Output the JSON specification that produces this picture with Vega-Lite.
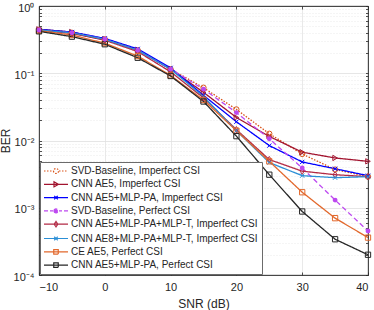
{
  "$schema": "https://vega.github.io/schema/vega-lite/v6.json",
  "width": 329,
  "height": 269,
  "autosize": {"type": "none"},
  "padding": {"left": 39, "top": 6, "right": 6, "bottom": 35},
  "config": {
    "font": "Liberation Sans",
    "view": {"stroke": "#262626", "strokeWidth": 0.8},
    "axis": {
      "labelFont": "Liberation Sans",
      "titleFont": "Liberation Sans",
      "labelFontSize": 11,
      "titleFontSize": 12,
      "titleFontWeight": "normal",
      "labelColor": "#262626",
      "titleColor": "#262626",
      "domainColor": "#262626",
      "tickColor": "#262626",
      "domainWidth": 0.8,
      "tickWidth": 0.8
    },
    "point": {"filled": false, "size": 28, "strokeWidth": 1, "opacity": 1, "clip": true}
  },
  "data": {
    "values": [
      {"series": "SVD-Baseline, Imperfect CSI", "snr": -10, "ber": 0.44},
      {"series": "SVD-Baseline, Imperfect CSI", "snr": -5, "ber": 0.40},
      {"series": "SVD-Baseline, Imperfect CSI", "snr": 0, "ber": 0.32},
      {"series": "SVD-Baseline, Imperfect CSI", "snr": 5, "ber": 0.22},
      {"series": "SVD-Baseline, Imperfect CSI", "snr": 10, "ber": 0.115},
      {"series": "SVD-Baseline, Imperfect CSI", "snr": 15, "ber": 0.061},
      {"series": "SVD-Baseline, Imperfect CSI", "snr": 20, "ber": 0.029},
      {"series": "SVD-Baseline, Imperfect CSI", "snr": 25, "ber": 0.0126},
      {"series": "SVD-Baseline, Imperfect CSI", "snr": 30, "ber": 0.0063},
      {"series": "SVD-Baseline, Imperfect CSI", "snr": 35, "ber": 0.0037},
      {"series": "SVD-Baseline, Imperfect CSI", "snr": 40, "ber": 0.0029},
      {"series": "CNN AE5, Imperfect CSI", "snr": -10, "ber": 0.45},
      {"series": "CNN AE5, Imperfect CSI", "snr": -5, "ber": 0.41},
      {"series": "CNN AE5, Imperfect CSI", "snr": 0, "ber": 0.32},
      {"series": "CNN AE5, Imperfect CSI", "snr": 5, "ber": 0.22},
      {"series": "CNN AE5, Imperfect CSI", "snr": 10, "ber": 0.115},
      {"series": "CNN AE5, Imperfect CSI", "snr": 15, "ber": 0.052},
      {"series": "CNN AE5, Imperfect CSI", "snr": 20, "ber": 0.022},
      {"series": "CNN AE5, Imperfect CSI", "snr": 25, "ber": 0.0115},
      {"series": "CNN AE5, Imperfect CSI", "snr": 30, "ber": 0.0067},
      {"series": "CNN AE5, Imperfect CSI", "snr": 35, "ber": 0.0055},
      {"series": "CNN AE5, Imperfect CSI", "snr": 40, "ber": 0.0049},
      {"series": "CNN AE5+MLP-PA, Imperfect CSI", "snr": -10, "ber": 0.45},
      {"series": "CNN AE5+MLP-PA, Imperfect CSI", "snr": -5, "ber": 0.41},
      {"series": "CNN AE5+MLP-PA, Imperfect CSI", "snr": 0, "ber": 0.33},
      {"series": "CNN AE5+MLP-PA, Imperfect CSI", "snr": 5, "ber": 0.23},
      {"series": "CNN AE5+MLP-PA, Imperfect CSI", "snr": 10, "ber": 0.12},
      {"series": "CNN AE5+MLP-PA, Imperfect CSI", "snr": 15, "ber": 0.047},
      {"series": "CNN AE5+MLP-PA, Imperfect CSI", "snr": 20, "ber": 0.019},
      {"series": "CNN AE5+MLP-PA, Imperfect CSI", "snr": 25, "ber": 0.0084},
      {"series": "CNN AE5+MLP-PA, Imperfect CSI", "snr": 30, "ber": 0.0048},
      {"series": "CNN AE5+MLP-PA, Imperfect CSI", "snr": 35, "ber": 0.0038},
      {"series": "CNN AE5+MLP-PA, Imperfect CSI", "snr": 40, "ber": 0.0030},
      {"series": "SVD-Baseline, Perfect CSI", "snr": -10, "ber": 0.44},
      {"series": "SVD-Baseline, Perfect CSI", "snr": -5, "ber": 0.40},
      {"series": "SVD-Baseline, Perfect CSI", "snr": 0, "ber": 0.32},
      {"series": "SVD-Baseline, Perfect CSI", "snr": 5, "ber": 0.22},
      {"series": "SVD-Baseline, Perfect CSI", "snr": 10, "ber": 0.115},
      {"series": "SVD-Baseline, Perfect CSI", "snr": 15, "ber": 0.058},
      {"series": "SVD-Baseline, Perfect CSI", "snr": 20, "ber": 0.026},
      {"series": "SVD-Baseline, Perfect CSI", "snr": 25, "ber": 0.0106},
      {"series": "SVD-Baseline, Perfect CSI", "snr": 30, "ber": 0.0039},
      {"series": "SVD-Baseline, Perfect CSI", "snr": 35, "ber": 0.0013},
      {"series": "SVD-Baseline, Perfect CSI", "snr": 40, "ber": 0.00045},
      {"series": "CNN AE5+MLP-PA+MLP-T, Imperfect CSI", "snr": -10, "ber": 0.44},
      {"series": "CNN AE5+MLP-PA+MLP-T, Imperfect CSI", "snr": -5, "ber": 0.39},
      {"series": "CNN AE5+MLP-PA+MLP-T, Imperfect CSI", "snr": 0, "ber": 0.31},
      {"series": "CNN AE5+MLP-PA+MLP-T, Imperfect CSI", "snr": 5, "ber": 0.21},
      {"series": "CNN AE5+MLP-PA+MLP-T, Imperfect CSI", "snr": 10, "ber": 0.105},
      {"series": "CNN AE5+MLP-PA+MLP-T, Imperfect CSI", "snr": 15, "ber": 0.043},
      {"series": "CNN AE5+MLP-PA+MLP-T, Imperfect CSI", "snr": 20, "ber": 0.0145},
      {"series": "CNN AE5+MLP-PA+MLP-T, Imperfect CSI", "snr": 25, "ber": 0.0052},
      {"series": "CNN AE5+MLP-PA+MLP-T, Imperfect CSI", "snr": 30, "ber": 0.0035},
      {"series": "CNN AE5+MLP-PA+MLP-T, Imperfect CSI", "snr": 35, "ber": 0.0031},
      {"series": "CNN AE5+MLP-PA+MLP-T, Imperfect CSI", "snr": 40, "ber": 0.0029},
      {"series": "CNN AE8+MLP-PA+MLP-T, Imperfect CSI", "snr": -10, "ber": 0.44},
      {"series": "CNN AE8+MLP-PA+MLP-T, Imperfect CSI", "snr": -5, "ber": 0.40},
      {"series": "CNN AE8+MLP-PA+MLP-T, Imperfect CSI", "snr": 0, "ber": 0.32},
      {"series": "CNN AE8+MLP-PA+MLP-T, Imperfect CSI", "snr": 5, "ber": 0.22},
      {"series": "CNN AE8+MLP-PA+MLP-T, Imperfect CSI", "snr": 10, "ber": 0.115},
      {"series": "CNN AE8+MLP-PA+MLP-T, Imperfect CSI", "snr": 15, "ber": 0.045},
      {"series": "CNN AE8+MLP-PA+MLP-T, Imperfect CSI", "snr": 20, "ber": 0.014},
      {"series": "CNN AE8+MLP-PA+MLP-T, Imperfect CSI", "snr": 25, "ber": 0.0047},
      {"series": "CNN AE8+MLP-PA+MLP-T, Imperfect CSI", "snr": 30, "ber": 0.0030},
      {"series": "CNN AE8+MLP-PA+MLP-T, Imperfect CSI", "snr": 35, "ber": 0.0028},
      {"series": "CNN AE8+MLP-PA+MLP-T, Imperfect CSI", "snr": 40, "ber": 0.0029},
      {"series": "CE AE5, Perfect CSI", "snr": -10, "ber": 0.43},
      {"series": "CE AE5, Perfect CSI", "snr": -5, "ber": 0.37},
      {"series": "CE AE5, Perfect CSI", "snr": 0, "ber": 0.28},
      {"series": "CE AE5, Perfect CSI", "snr": 5, "ber": 0.18},
      {"series": "CE AE5, Perfect CSI", "snr": 10, "ber": 0.093},
      {"series": "CE AE5, Perfect CSI", "snr": 15, "ber": 0.040},
      {"series": "CE AE5, Perfect CSI", "snr": 20, "ber": 0.014},
      {"series": "CE AE5, Perfect CSI", "snr": 25, "ber": 0.0049},
      {"series": "CE AE5, Perfect CSI", "snr": 30, "ber": 0.0017},
      {"series": "CE AE5, Perfect CSI", "snr": 35, "ber": 0.00070},
      {"series": "CE AE5, Perfect CSI", "snr": 40, "ber": 0.00036},
      {"series": "CNN AE5+MLP-PA, Perfect CSI", "snr": -10, "ber": 0.42},
      {"series": "CNN AE5+MLP-PA, Perfect CSI", "snr": -5, "ber": 0.35},
      {"series": "CNN AE5+MLP-PA, Perfect CSI", "snr": 0, "ber": 0.27},
      {"series": "CNN AE5+MLP-PA, Perfect CSI", "snr": 5, "ber": 0.17},
      {"series": "CNN AE5+MLP-PA, Perfect CSI", "snr": 10, "ber": 0.091},
      {"series": "CNN AE5+MLP-PA, Perfect CSI", "snr": 15, "ber": 0.038},
      {"series": "CNN AE5+MLP-PA, Perfect CSI", "snr": 20, "ber": 0.0116},
      {"series": "CNN AE5+MLP-PA, Perfect CSI", "snr": 25, "ber": 0.0031},
      {"series": "CNN AE5+MLP-PA, Perfect CSI", "snr": 30, "ber": 0.00088},
      {"series": "CNN AE5+MLP-PA, Perfect CSI", "snr": 35, "ber": 0.00034},
      {"series": "CNN AE5+MLP-PA, Perfect CSI", "snr": 40, "ber": 0.0002}
    ]
  },
  "resolve": {"axis": {"x": "independent", "y": "independent"}},
  "layer": [
    {
      "mark": {"type": "line", "strokeWidth": 1.3, "clip": true},
      "encoding": {
        "x": {
          "field": "snr", "type": "quantitative",
          "scale": {"domain": [-10, 40], "nice": false, "zero": false},
          "axis": {
            "orient": "bottom", "title": "SNR (dB)", "values": [-10, 0, 10, 20, 30, 40],
            "grid": true, "gridColor": "#e3e3e3", "gridWidth": 0.8,
            "tickSize": -3, "labelPadding": 9, "titlePadding": 6, "domain": true
          }
        },
        "y": {
          "field": "ber", "type": "quantitative",
          "scale": {"type": "log", "domain": [0.0001, 1], "nice": false},
          "axis": {
            "orient": "left", "title": "BER", "titlePadding": 1,
            "values": [0.0001, 0.0002, 0.0003, 0.0004, 0.0005, 0.0006, 0.0007, 0.0008, 0.0009, 0.001, 0.002, 0.003, 0.004, 0.005, 0.006, 0.007, 0.008, 0.009, 0.01, 0.02, 0.03, 0.04, 0.05, 0.06, 0.07, 0.08, 0.09, 0.1, 0.2, 0.3, 0.4, 0.5, 0.6, 0.7, 0.8, 0.9, 1],
            "labelExpr": "datum.value == 1 ? '10⁰' : datum.value == 0.1 ? '10⁻¹' : datum.value == 0.01 ? '10⁻²' : datum.value == 0.001 ? '10⁻³' : datum.value == 0.0001 ? '10⁻⁴' : ''",
            "grid": true,
            "gridColor": {"condition": {"test": "indexof([1,0.1,0.01,0.001,0.0001], datum.value) >= 0", "value": "#e0e0e0"}, "value": "#e6e6e6"},
            "gridDash": {"condition": {"test": "indexof([1,0.1,0.01,0.001,0.0001], datum.value) >= 0", "value": []}, "value": [1, 2]},
            "gridWidth": 0.8,
            "tickSize": -2.5, "labelPadding": 7.5, "labelOffset": 2, "labelFlush": false, "labelOverlap": false
          }
        },
        "color": {
          "field": "series", "type": "nominal",
          "scale": {
            "domain": ["SVD-Baseline, Imperfect CSI", "CNN AE5, Imperfect CSI", "CNN AE5+MLP-PA, Imperfect CSI", "SVD-Baseline, Perfect CSI", "CNN AE5+MLP-PA+MLP-T, Imperfect CSI", "CNN AE8+MLP-PA+MLP-T, Imperfect CSI", "CE AE5, Perfect CSI", "CNN AE5+MLP-PA, Perfect CSI"],
            "range": ["#D95319", "#A2142F", "#0000FF", "#BD48F0", "#B22A45", "#2B8FD6", "#E2682C", "#262626"]
          },
          "legend": {
            "title": null,
            "orient": "bottom-left",
            "offset": 1,
            "fillColor": "white",
            "strokeColor": "#6b6b6b",
            "padding": 3,
            "rowPadding": 2.3,
            "symbolSize": 100,
            "symbolStrokeWidth": 1.2,
            "labelOffset": 16,
            "labelFontSize": 10,
            "labelFont": "Liberation Sans",
            "labelColor": "#262626",
            "labelLimit": 300,
            "encode": {
              "symbols": {
                "update": {
                  "shape": {"signal": "['M-1,0h0.3M-0.4,0h0.3M0.2,0h0.3M2.0,0h0.3M2.6,0h0.3M3.2,0h0.3M0.9,0A0.5,0.5 0 1,0 1.9,0A0.5,0.5 0 1,0 0.9,0', 'M-1,0H3.8M1.0,-0.5L1.9,0L1.0,0.5Z', 'M-1,0H3.8M1.05,-0.35L1.75,0.35M1.05,0.35L1.75,-0.35', 'M-1,0H-0.2M0.2,0H0.8M2.0,0H2.6M3.0,0H3.8M1.0,0A0.4,0.4 0 1,0 1.8,0A0.4,0.4 0 1,0 1.0,0', 'M-1,0H3.8M1.4,-0.55L1.75,0L1.4,0.55L1.05,0Z', 'M-1,0H3.8M1.05,-0.35L1.75,0.35M1.05,0.35L1.75,-0.35', 'M-1,0H3.8M0.95,-0.45H1.85V0.45H0.95Z', 'M-1,0H3.8M0.95,-0.45H1.85V0.45H0.95Z'][indexof(['SVD-Baseline, Imperfect CSI', 'CNN AE5, Imperfect CSI', 'CNN AE5+MLP-PA, Imperfect CSI', 'SVD-Baseline, Perfect CSI', 'CNN AE5+MLP-PA+MLP-T, Imperfect CSI', 'CNN AE8+MLP-PA+MLP-T, Imperfect CSI', 'CE AE5, Perfect CSI', 'CNN AE5+MLP-PA, Perfect CSI'], datum.value)]"},
                  "fill": {"signal": "datum.value == 'SVD-Baseline, Perfect CSI' ? '#BD48F0' : 'transparent'"},
                  "stroke": {"scale": "color", "field": "value"},
                  "strokeDash": {"value": []},
                  "strokeWidth": {"value": 1.2},
                  "opacity": {"value": 1}
                }
              }
            }
          }
        },
        "strokeDash": {
          "field": "series", "type": "nominal",
          "scale": {
            "domain": ["SVD-Baseline, Imperfect CSI", "CNN AE5, Imperfect CSI", "CNN AE5+MLP-PA, Imperfect CSI", "SVD-Baseline, Perfect CSI", "CNN AE5+MLP-PA+MLP-T, Imperfect CSI", "CNN AE8+MLP-PA+MLP-T, Imperfect CSI", "CE AE5, Perfect CSI", "CNN AE5+MLP-PA, Perfect CSI"],
            "range": [[1.5, 1.5], [1, 0], [1, 0], [5, 3], [1, 0], [1, 0], [1, 0], [1, 0]]
          },
          "legend": null
        }
      }
    },
    {
      "transform": [{"filter": "datum.series == 'SVD-Baseline, Imperfect CSI'"}],
      "mark": {"type": "point", "shape": "circle", "stroke": "#D95319"},
      "encoding": {
        "x": {
          "field": "snr", "type": "quantitative",
          "axis": {"orient": "top", "title": null, "labels": false, "grid": false, "values": [-10, 0, 10, 20, 30, 40], "tickSize": -3, "domain": true}
        },
        "y": {
          "field": "ber", "type": "quantitative",
          "axis": {"orient": "right", "title": null, "labels": false, "grid": false, "values": [0.0001, 0.0002, 0.0003, 0.0004, 0.0005, 0.0006, 0.0007, 0.0008, 0.0009, 0.001, 0.002, 0.003, 0.004, 0.005, 0.006, 0.007, 0.008, 0.009, 0.01, 0.02, 0.03, 0.04, 0.05, 0.06, 0.07, 0.08, 0.09, 0.1, 0.2, 0.3, 0.4, 0.5, 0.6, 0.7, 0.8, 0.9, 1], "tickSize": -2.5, "domain": true}
        }
      }
    },
    {
      "transform": [{"filter": "datum.series == 'CNN AE5, Imperfect CSI'"}],
      "mark": {"type": "point", "shape": "triangle-right", "stroke": "#A2142F"},
      "encoding": {
        "x": {"field": "snr", "type": "quantitative", "axis": null},
        "y": {"field": "ber", "type": "quantitative", "axis": null}
      }
    },
    {
      "transform": [{"filter": "datum.series == 'CNN AE5+MLP-PA, Imperfect CSI'"}],
      "mark": {"type": "point", "shape": "M-0.8,-0.8L0.8,0.8M-0.8,0.8L0.8,-0.8", "stroke": "#0000FF"},
      "encoding": {
        "x": {"field": "snr", "type": "quantitative", "axis": null},
        "y": {"field": "ber", "type": "quantitative", "axis": null}
      }
    },
    {
      "transform": [{"filter": "datum.series == 'CNN AE5+MLP-PA+MLP-T, Imperfect CSI'"}],
      "mark": {"type": "point", "shape": "M0,-1.2L0.75,0L0,1.2L-0.75,0Z", "stroke": "#B22A45"},
      "encoding": {
        "x": {"field": "snr", "type": "quantitative", "axis": null},
        "y": {"field": "ber", "type": "quantitative", "axis": null}
      }
    },
    {
      "transform": [{"filter": "datum.series == 'CNN AE8+MLP-PA+MLP-T, Imperfect CSI'"}],
      "mark": {"type": "point", "shape": "M-0.8,-0.8L0.8,0.8M-0.8,0.8L0.8,-0.8", "stroke": "#2B8FD6"},
      "encoding": {
        "x": {"field": "snr", "type": "quantitative", "axis": null},
        "y": {"field": "ber", "type": "quantitative", "axis": null}
      }
    },
    {
      "transform": [{"filter": "datum.series == 'CE AE5, Perfect CSI'"}],
      "mark": {"type": "point", "shape": "square", "stroke": "#E2682C"},
      "encoding": {
        "x": {"field": "snr", "type": "quantitative", "axis": null},
        "y": {"field": "ber", "type": "quantitative", "axis": null}
      }
    },
    {
      "transform": [{"filter": "datum.series == 'CNN AE5+MLP-PA, Perfect CSI'"}],
      "mark": {"type": "point", "shape": "square", "stroke": "#262626"},
      "encoding": {
        "x": {"field": "snr", "type": "quantitative", "axis": null},
        "y": {"field": "ber", "type": "quantitative", "axis": null}
      }
    },
    {
      "transform": [{"filter": "datum.series == 'SVD-Baseline, Perfect CSI'"}],
      "mark": {"type": "point", "filled": true, "shape": "circle", "size": 24, "fill": "#BD48F0", "strokeWidth": 0},
      "encoding": {
        "x": {"field": "snr", "type": "quantitative", "axis": null},
        "y": {"field": "ber", "type": "quantitative", "axis": null}
      }
    }
  ]
}
